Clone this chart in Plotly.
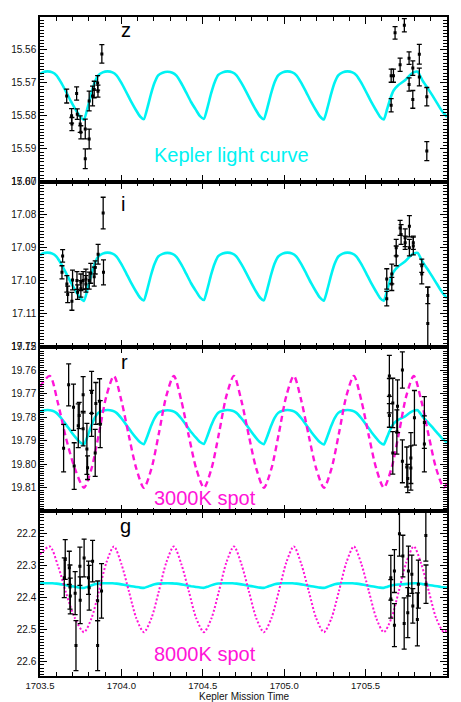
import plotly.graph_objects as go
from plotly.subplots import make_subplots

# ---------------- Kepler light curve (relative mag, 0 = brightest) ----------------
kep_t = [1703.500, 1703.516, 1703.546, 1703.576, 1703.601, 1703.631, 1703.661, 1703.691, 1703.721, 1703.746,
         1703.770, 1703.792, 1703.814, 1703.836, 1703.858, 1703.885, 1703.915, 1703.945, 1703.970, 1704.000,
         1704.030, 1704.060, 1704.090, 1704.115,
         1704.138, 1704.160, 1704.182, 1704.204, 1704.226, 1704.253, 1704.283, 1704.313, 1704.338, 1704.368,
         1704.398, 1704.428, 1704.458, 1704.483,
         1704.507, 1704.529, 1704.551, 1704.573, 1704.595, 1704.622, 1704.652, 1704.682, 1704.707, 1704.737,
         1704.767, 1704.797, 1704.827, 1704.852,
         1704.875, 1704.897, 1704.919, 1704.941, 1704.963, 1704.990, 1705.020, 1705.050, 1705.075, 1705.105,
         1705.135, 1705.165, 1705.195, 1705.220,
         1705.244, 1705.266, 1705.288, 1705.310, 1705.332, 1705.359, 1705.389, 1705.419, 1705.444, 1705.474,
         1705.504, 1705.534, 1705.564, 1705.589,
         1705.612, 1705.632, 1705.652, 1705.672, 1705.700, 1705.740, 1705.775, 1705.800, 1705.820, 1705.850,
         1705.880, 1705.910, 1705.940, 1705.965, 1705.985, 1706.000]
kep_dmag = [0.0008, 0.0003, 0.0000, 0.0003, 0.0012, 0.0035, 0.0063, 0.0092, 0.0118, 0.0137,
            0.0147, 0.0111, 0.0069, 0.0033, 0.0012, 0.0003, 0.0000, 0.0003, 0.0012, 0.0035,
            0.0063, 0.0092, 0.0118, 0.0137,
            0.0145, 0.0110, 0.0068, 0.0034, 0.0012, 0.0004, 0.0001, 0.0004, 0.0013, 0.0036,
            0.0064, 0.0093, 0.0117, 0.0136,
            0.0144, 0.0109, 0.0067, 0.0033, 0.0011, 0.0003, 0.0000, 0.0003, 0.0012, 0.0035,
            0.0062, 0.0091, 0.0118, 0.0137,
            0.0145, 0.0110, 0.0068, 0.0033, 0.0012, 0.0003, 0.0000, 0.0003, 0.0012, 0.0035,
            0.0063, 0.0092, 0.0118, 0.0137,
            0.0146, 0.0111, 0.0069, 0.0034, 0.0012, 0.0003, 0.0000, 0.0003, 0.0012, 0.0035,
            0.0063, 0.0092, 0.0118, 0.0138,
            0.0146, 0.0115, 0.0082, 0.0058, 0.0042, 0.0028, 0.0010, 0.0002, 0.0001, 0.0028,
            0.0050, 0.0073, 0.0097, 0.0117, 0.0130, 0.0138]
kep_offset = {"z": 15.5665, "i": 17.0915, "r": 19.777, "g": 22.355}

# ---------------- spot models ----------------
spot_t = [1703.500, 1703.560, 1703.610, 1703.660, 1703.715, 1703.770,
          1703.816, 1703.862, 1703.908, 1703.954, 1704.000, 1704.046, 1704.092, 1704.138,
          1704.184, 1704.230, 1704.276, 1704.322, 1704.368, 1704.414, 1704.460, 1704.507,
          1704.553, 1704.599, 1704.645, 1704.691, 1704.737, 1704.783, 1704.829, 1704.875,
          1704.921, 1704.967, 1705.013, 1705.059, 1705.105, 1705.151, 1705.197, 1705.244,
          1705.290, 1705.336, 1705.382, 1705.428, 1705.474, 1705.520, 1705.566, 1705.612,
          1705.658, 1705.704, 1705.750, 1705.796, 1705.842, 1705.888, 1705.934, 1705.981, 1706.000]
spot3000_r = [19.767, 19.7625, 19.774, 19.789, 19.802, 19.810,
              19.802, 19.787, 19.771, 19.7625, 19.773, 19.788, 19.802, 19.810,
              19.802, 19.787, 19.771, 19.7625, 19.773, 19.788, 19.802, 19.810,
              19.802, 19.787, 19.771, 19.7625, 19.773, 19.788, 19.802, 19.810,
              19.802, 19.787, 19.771, 19.7625, 19.773, 19.788, 19.802, 19.810,
              19.802, 19.787, 19.771, 19.7625, 19.773, 19.788, 19.802, 19.810,
              19.802, 19.787, 19.771, 19.7625, 19.773, 19.788, 19.802, 19.810, 19.808]
spot8000_g = [22.265, 22.240, 22.300, 22.385, 22.465, 22.508,
              22.465, 22.380, 22.290, 22.240, 22.295, 22.380, 22.465, 22.508,
              22.465, 22.380, 22.290, 22.240, 22.295, 22.380, 22.465, 22.508,
              22.465, 22.380, 22.290, 22.240, 22.295, 22.380, 22.465, 22.508,
              22.465, 22.380, 22.290, 22.240, 22.295, 22.380, 22.465, 22.508,
              22.465, 22.380, 22.290, 22.240, 22.295, 22.380, 22.465, 22.508,
              22.465, 22.380, 22.290, 22.240, 22.295, 22.380, 22.465, 22.508, 22.500]

# ---------------- photometry ----------------
z_t = [1703.664, 1703.694, 1703.696, 1703.725, 1703.729, 1703.747, 1703.751, 1703.778, 1703.778,
       1703.802, 1703.802, 1703.823, 1703.833, 1703.854, 1703.856, 1703.880,
       1705.657, 1705.657, 1705.671, 1705.681, 1705.712, 1705.738, 1705.767, 1705.767,
       1705.790, 1705.790, 1705.830, 1705.830, 1705.876, 1705.876]
z_mag = [15.5740, 15.5800, 15.5825, 15.5732, 15.5795, 15.5825, 15.5850, 15.5840, 15.5930,
         15.5870, 15.5755, 15.5740, 15.5720, 15.5700, 15.5725, 15.5612,
         15.5768, 15.5678, 15.5678, 15.5548, 15.5645, 15.5525, 15.5625, 15.5705,
         15.5655, 15.5750, 15.5613, 15.5682, 15.5742, 15.5907]
z_err = [0.0021, 0.0022, 0.0020, 0.0020, 0.0016, 0.0025, 0.0020, 0.0030, 0.0030,
         0.0030, 0.0030, 0.0030, 0.0025, 0.0022, 0.0018, 0.0028,
         0.0020, 0.0020, 0.0020, 0.0019, 0.0020, 0.0020, 0.0019, 0.0020,
         0.0022, 0.0027, 0.0030, 0.0027, 0.0028, 0.0029]

i_t = [1703.639, 1703.635, 1703.665, 1703.670, 1703.696, 1703.700, 1703.727, 1703.731, 1703.751,
       1703.751, 1703.765, 1703.782, 1703.782, 1703.802, 1703.812, 1703.833, 1703.839, 1703.857,
       1703.888, 1703.890,
       1705.630, 1705.630, 1705.661, 1705.661, 1705.688, 1705.688, 1705.712, 1705.718, 1705.743,
       1705.743, 1705.769, 1705.769, 1705.793, 1705.793, 1705.845, 1705.845, 1705.882, 1705.882]
i_mag = [17.0925, 17.0975, 17.1010, 17.1042, 17.1063, 17.0998, 17.1000, 17.1035, 17.1005,
         17.1025, 17.1000, 17.0995, 17.1010, 17.1000, 17.0978, 17.0988, 17.0960, 17.0920,
         17.0795, 17.0975,
         17.0995, 17.1055, 17.0980, 17.1010, 17.0925, 17.0900, 17.0840, 17.0860, 17.0870,
         17.0885, 17.0835, 17.0900, 17.0895, 17.0885, 17.0980, 17.0955, 17.1045, 17.1130]
i_err = [0.0019, 0.0020, 0.0025, 0.0025, 0.0027, 0.0030, 0.0027, 0.0022, 0.0025,
         0.0025, 0.0027, 0.0030, 0.0025, 0.0026, 0.0030, 0.0029, 0.0020, 0.0030,
         0.0048, 0.0038,
         0.0031, 0.0022, 0.0030, 0.0020, 0.0030, 0.0025, 0.0023, 0.0030, 0.0027,
         0.0020, 0.0032, 0.0025, 0.0027, 0.0020, 0.0030, 0.0020, 0.0025, 0.0110]

r_t = [1703.645, 1703.676, 1703.706, 1703.710, 1703.735, 1703.741, 1703.765, 1703.765, 1703.788,
       1703.792, 1703.817, 1703.817, 1703.839, 1703.843, 1703.866, 1703.870,
       1705.646, 1705.646, 1705.646, 1705.667, 1705.667, 1705.692, 1705.696, 1705.726, 1705.726,
       1705.753, 1705.759, 1705.778, 1705.778, 1705.800, 1705.861, 1705.861]
r_mag = [19.7932, 19.7663, 19.7758, 19.8008, 19.7837, 19.7793, 19.7705, 19.7849, 19.7935,
         19.8015, 19.7784, 19.7695, 19.7952, 19.7742, 19.7733, 19.7830,
         19.7625, 19.7709, 19.7793, 19.7740, 19.7952, 19.7863, 19.7754, 19.7600, 19.7988,
         19.8012, 19.8061, 19.7974, 19.8016, 19.7803, 19.7823, 19.7914]
r_err = [0.0101, 0.0089, 0.0098, 0.0099, 0.0093, 0.0056, 0.0077, 0.0073, 0.0108,
         0.0050, 0.0098, 0.0089, 0.0100, 0.0089, 0.0096, 0.0100,
         0.0087, 0.0073, 0.0050, 0.0105, 0.0090, 0.0094, 0.0112, 0.0077, 0.0091,
         0.0085, 0.0060, 0.0108, 0.0094, 0.0116, 0.0110, 0.0119]

g_t = [1703.649, 1703.655, 1703.680, 1703.684, 1703.686, 1703.716, 1703.721, 1703.745, 1703.747,
       1703.771, 1703.798, 1703.802, 1703.823, 1703.854, 1703.854, 1703.878,
       1705.655, 1705.655, 1705.677, 1705.677, 1705.708, 1705.729, 1705.737, 1705.759, 1705.763,
       1705.784, 1705.790, 1705.818, 1705.824, 1705.870, 1705.871]
g_mag = [22.338, 22.281, 22.307, 22.367, 22.395, 22.386, 22.550, 22.302, 22.408,
         22.276, 22.338, 22.369, 22.286, 22.550, 22.410, 22.379,
         22.338, 22.404, 22.317, 22.486, 22.200, 22.270, 22.481, 22.447, 22.317,
         22.327, 22.426, 22.468, 22.358, 22.206, 22.358]
g_err = [0.062, 0.062, 0.052, 0.069, 0.056, 0.067, 0.078, 0.060, 0.073,
         0.059, 0.052, 0.070, 0.065, 0.078, 0.062, 0.085,
         0.070, 0.060, 0.067, 0.067, 0.070, 0.065, 0.080, 0.078, 0.078,
         0.060, 0.054, 0.083, 0.075, 0.080, 0.060]

bands = ["z", "i", "r", "g"]
obs = {"z": (z_t, z_mag, z_err), "i": (i_t, i_mag, i_err),
       "r": (r_t, r_mag, r_err), "g": (g_t, g_mag, g_err)}
y_ranges = {"z": [15.60, 15.55], "i": [17.12, 17.07], "r": [19.82, 19.75], "g": [22.645, 22.13]}
y_ticks = {"z": [15.56, 15.57, 15.58, 15.59, 15.60],
           "i": [17.07, 17.08, 17.09, 17.10, 17.11, 17.12],
           "r": [19.75, 19.76, 19.77, 19.78, 19.79, 19.80, 19.81],
           "g": [22.2, 22.3, 22.4, 22.5, 22.6]}
y_minor = {"z": (15.55, 0.001), "i": (17.07, 0.001), "r": (19.75, 0.001), "g": (22.1, 0.01)}
y_fmt = {"z": "{:.2f}", "i": "{:.2f}", "r": "{:.2f}", "g": "{:.1f}"}
x_ticks = [1703.5, 1704.0, 1704.5, 1705.0, 1705.5, 1706.0]

CYAN = "#00f2f2"
MAG = "#ff14d8"
FONT = "Liberation Sans, Arial, Helvetica, sans-serif"

fig = make_subplots(rows=4, cols=1, shared_xaxes=True, vertical_spacing=0)

for k, b in enumerate(bands):
    row = k + 1
    off = kep_offset[b]
    fig.add_trace(go.Scatter(x=kep_t, y=[off + d for d in kep_dmag], mode="lines",
                             line=dict(color=CYAN, width=2.6, shape="spline", smoothing=0.5),
                             hoverinfo="skip", showlegend=False), row=row, col=1)
    if b == "r":
        fig.add_trace(go.Scatter(x=spot_t, y=spot3000_r, mode="lines",
                                 line=dict(color=MAG, width=2.4, dash="6px,4px",
                                           shape="spline", smoothing=0.8),
                                 showlegend=False), row=row, col=1)
    if b == "g":
        fig.add_trace(go.Scatter(x=spot_t, y=spot8000_g, mode="lines",
                                 line=dict(color=MAG, width=2.0, dash="2px,2px",
                                           shape="spline", smoothing=0.8),
                                 showlegend=False), row=row, col=1)
    t, m, e = obs[b]
    fig.add_trace(go.Scatter(x=t, y=m, mode="markers",
                             marker=dict(symbol="square", size=3, color="black"),
                             error_y=dict(type="data", array=e, visible=True,
                                          color="black", thickness=1.3, width=2.5),
                             showlegend=False), row=row, col=1)

    fig.update_yaxes(row=row, col=1, range=y_ranges[b], autorange=False,
                     tickmode="array", tickvals=y_ticks[b],
                     ticktext=[y_fmt[b].format(v) for v in y_ticks[b]],
                     ticks="inside", ticklen=7, tickwidth=1, tickcolor="black",
                     minor=dict(tickmode="linear", tick0=y_minor[b][0], dtick=y_minor[b][1],
                                ticks="inside", ticklen=4, tickcolor="black", tickwidth=1,
                                showgrid=False),
                     showline=True, linecolor="black", linewidth=1.5, mirror="allticks",
                     showgrid=False, zeroline=False,
                     tickfont=dict(family=FONT, size=10, color="#111"))
    fig.update_xaxes(row=row, col=1, range=[1703.5, 1706.0], autorange=False,
                     tickmode="array", tickvals=x_ticks,
                     ticktext=["{:.1f}".format(v) for v in x_ticks],
                     ticks="inside", ticklen=7, tickwidth=1, tickcolor="black",
                     minor=dict(tickmode="linear", tick0=1703.5, dtick=0.1,
                                ticks="inside", ticklen=4, tickcolor="black", tickwidth=1,
                                showgrid=False),
                     showline=True, linecolor="black", linewidth=1.5, mirror="allticks",
                     showgrid=False, zeroline=False,
                     tickfont=dict(family=FONT, size=9.5, color="#111"))

# panel letters
letters = [("z", 1704.027, 15.5540, "y"), ("i", 1704.01, 17.0766, "y2"),
           ("r", 1704.02, 19.7567, "y3"), ("g", 1704.027, 22.175, "y4")]
for txt, xv, yv, yr in letters:
    fig.add_annotation(x=xv, y=yv, xref="x", yref=yr, text=txt, showarrow=False,
                       font=dict(family=FONT, size=20, color="black"),
                       xanchor="center", yanchor="middle")

labels = [("Kepler light curve", CYAN, 15.5918, "y"),
          ("3000K spot", MAG, 19.8145, "y3"),
          ("8000K spot", MAG, 22.575, "y4")]
for txt, col, yv, yr in labels:
    fig.add_annotation(x=1704.19, y=yv, xref="x", yref=yr, text=txt, showarrow=False,
                       font=dict(family=FONT, size=20, color=col),
                       xanchor="left", yanchor="middle")

fig.add_annotation(x=0.5, y=-0.0215, xref="paper", yref="paper", text="Kepler Mission Time",
                   showarrow=False, font=dict(family=FONT, size=10, color="#111"),
                   xanchor="center", yanchor="top", borderpad=0)

fig.update_layout(width=461, height=702, autosize=False,
                  margin=dict(l=39, r=14, t=11, b=26),
                  paper_bgcolor="white", plot_bgcolor="white",
                  showlegend=False)

fig.write_html("out.html", config={"displayModeBar": False},
               post_script="document.body.style.margin='0px';document.body.style.overflow='hidden';")
